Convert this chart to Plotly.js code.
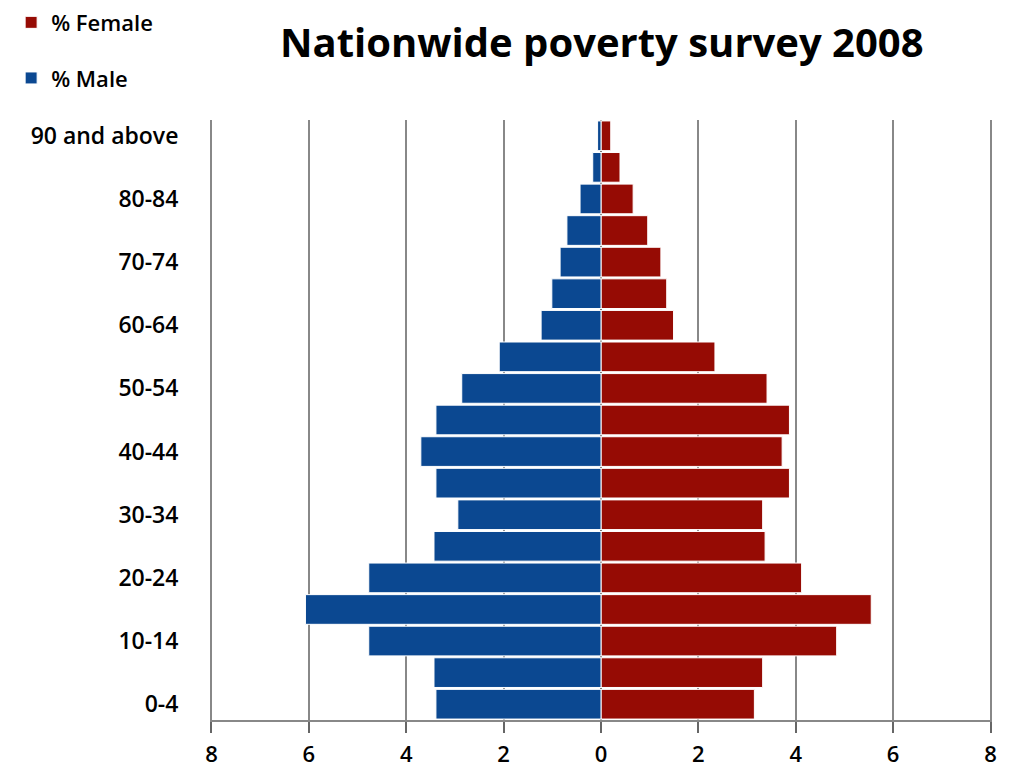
<!DOCTYPE html>
<html>
<head>
<meta charset="utf-8">
<script src="https://cdn.plot.ly/plotly-3.0.1.min.js"></script>
<style>html,body{margin:0;padding:0;background:#fff;}#chart{width:1012px;height:774px;}</style>
</head>
<body>
<div id="chart"></div>
<script>
const ageGroups = ["0-4","5-9","10-14","15-19","20-24","25-29","30-34","35-39","40-44","45-49","50-54","55-59","60-64","65-69","70-74","75-79","80-84","85-89","90 and above"];
const malePct   = [3.39,3.43,4.77,6.07,4.77,3.43,2.94,3.39,3.70,3.39,2.86,2.09,1.23,1.01,0.84,0.70,0.43,0.17,0.07];
const femalePct = [3.15,3.32,4.84,5.55,4.12,3.37,3.32,3.87,3.72,3.87,3.41,2.34,1.49,1.35,1.23,0.96,0.66,0.39,0.20];
const yTickLabels = ["0-4","10-14","20-24","30-34","40-44","50-54","60-64","70-74","80-84","90 and above"];
const xTickVals = [-8,-6,-4,-2,0,2,4,6,8];
const xTickText = ["8","6","4","2","0","2","4","6","8"];

const font = "'Open Sans', 'Liberation Sans', sans-serif";

const traces = [
  {
    type: 'bar', orientation: 'h', name: '% Female',
    y: ageGroups, x: femalePct,
    marker: {color: '#960B04', line: {color: '#ffffff', width: 1}},
    legendgroup: 'f', hoverinfo: 'none'
  },
  {
    type: 'bar', orientation: 'h', name: '% Male',
    y: ageGroups, x: malePct.map(v => -v),
    marker: {color: '#0B4891', line: {color: '#ffffff', width: 1}},
    legendgroup: 'm', hoverinfo: 'none'
  }
];

const layout = {
  width: 1012, height: 774,
  margin: {l: 210, r: 20, t: 120, b: 54},
  paper_bgcolor: '#fff', plot_bgcolor: '#fff',
  barmode: 'relative', bargap: 0.06,
  font: {family: font, color: '#000'},
  title: {
    text: '<b>Nationwide poverty survey 2008</b>',
    font: {family: font, size: 40, color: '#000'},
    x: 0.501, xanchor: 'center', xref: 'paper',
    y: 0.944, yanchor: 'middle', yref: 'container'
  },
  showlegend: true,
  legend: {
    x: 0.011, y: 0.998, xref: 'container', yref: 'container',
    xanchor: 'left', yanchor: 'top',
    traceorder: 'grouped', tracegroupgap: 24,
    font: {family: font, size: 22, color: '#000', weight: 600},
    itemwidth: 30, bgcolor: 'rgba(0,0,0,0)'
  },
  xaxis: {
    range: [-8.03, 8.03],
    tickvals: xTickVals, ticktext: xTickText,
    tickfont: {family: font, size: 22, color: '#000', weight: 600},
    showgrid: true, gridcolor: '#888', gridwidth: 2,
    zeroline: true, zerolinecolor: '#666', zerolinewidth: 2,
    showline: true, linecolor: '#888', linewidth: 2,
    ticks: 'outside', ticklen: 11, tickcolor: '#666', tickwidth: 2,
    ticklabelstandoff: 3,
    fixedrange: true
  },
  yaxis: {
    type: 'category',
    categoryorder: 'array', categoryarray: ageGroups,
    range: [-0.5, 18.5],
    tickvals: yTickLabels, ticktext: yTickLabels,
    tickfont: {family: font, size: 23, color: '#000', weight: 600},
    ticks: 'outside', ticklen: 26, tickcolor: 'rgba(0,0,0,0)',
    showgrid: false, showline: false, zeroline: false,
    fixedrange: true
  }
};

Plotly.newPlot('chart', traces, layout, {displayModeBar: false, staticPlot: true});
</script>
</body>
</html>
